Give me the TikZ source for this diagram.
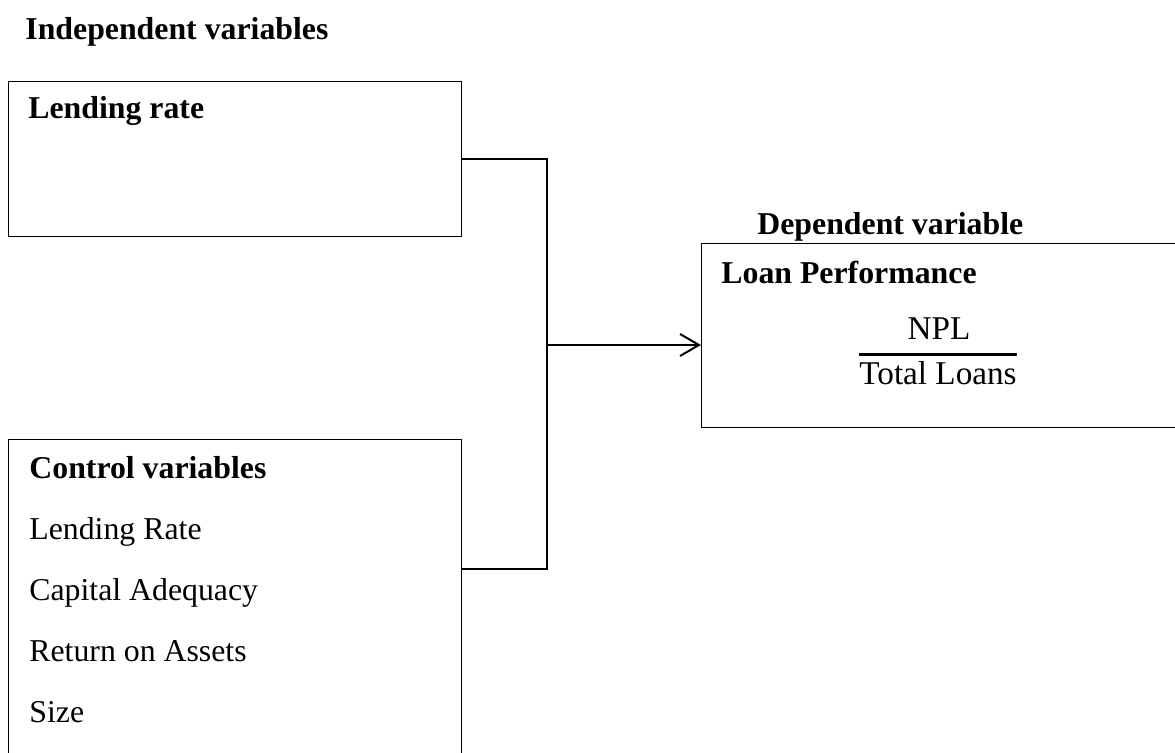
\documentclass[tikz,border=0pt]{standalone}
\usepackage{fontspec}
\setmainfont{Liberation Serif}
\usetikzlibrary{arrows.meta,calc}
\begin{document}
\begin{tikzpicture}[x=0.5pt,y=-0.5pt,
  box/.style={draw,line width=0.6pt,inner sep=0pt,anchor=north west},
  lbl/.style={inner sep=0pt,anchor=base west,font=\fontsize{15.9}{19}\selectfont},
  blbl/.style={lbl,font=\fontsize{15.9}{19}\selectfont\bfseries},
  frac/.style={inner sep=0pt,anchor=base,font=\fontsize{16.6}{20}\selectfont},
  conn/.style={line width=0.6pt},
  arr/.style={line width=1pt,-{Straight Barb[length=9.5pt,width=11pt,line width=1pt]}}]
\useasboundingbox (0,0) rectangle (1175,753);
% boxes
\node[box,minimum width=226.5pt,minimum height=77.5pt] (lr) at (8,81) {};
\node[box,minimum width=226.5pt,minimum height=180.5pt] (ctrl) at (8,439) {};
\node[box,minimum width=249.5pt,minimum height=92pt] (dep) at (701,243) {};
% titles
\node[blbl] (indep) at (25,40) {Independent variables};
\node[blbl] (deptitle) at (757,235) {Dependent variable};
% box texts
\node[blbl] (lrtxt) at (28,119) {Lending rate};
\node[blbl] (ctitle) at (29,479) {Control variables};
\node[lbl] (c1) at (29,540) {Lending Rate};
\node[lbl] (c2) at (29,601) {Capital Adequacy};
\node[lbl] (c3) at (29,662) {Return on Assets};
\node[lbl] (c4) at (29,723) {Size};
\node[blbl] (lp) at (721,284) {Loan Performance};
% fraction
\node[frac] (npl) at (939,340) {NPL};
\node[frac] (tl) at (938,385) {Total Loans};
\coordinate (bar) at (938,355);
\draw[line width=1.5pt] (bar -| tl.west) -- (bar -| tl.east);
% connectors
\coordinate (cr) at (461,569);
\coordinate (jb) at (547,569);
\draw[conn] (lr.east) -| (jb) -- (cr);
\coordinate (am) at (547,345);
\draw[arr] (am) -- (am -| dep.west);
\end{tikzpicture}
\end{document}
